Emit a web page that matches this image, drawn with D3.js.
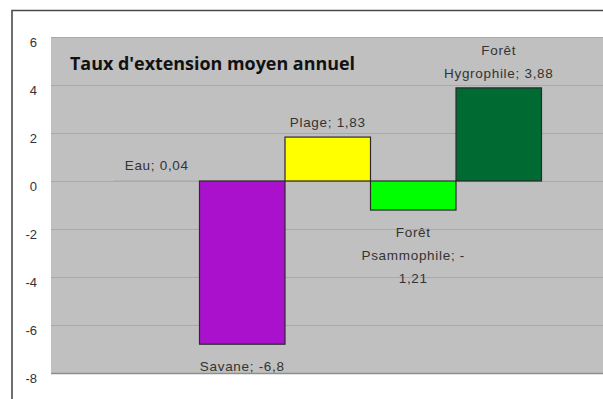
<!DOCTYPE html>
<html><head><meta charset="utf-8">
<script src="https://cdn.jsdelivr.net/npm/d3@7"></script>
<style>body{margin:0;background:#fff;}svg{display:block;}</style>
</head><body>
<script>
const categories = ["Eau", "Savane", "Plage", "Forêt Psammophile", "Forêt Hygrophile"];
const values = [0.04, -6.8, 1.83, -1.21, 3.88];
const colors = ["#b4b4b4", "#aa11cc", "#ffff00", "#00ff00", "#006a33"];
const labelLines = [["Eau; 0,04"], ["Savane; -6,8"], ["Plage; 1,83"], ["Forêt", "Psammophile; -", "1,21"], ["Forêt", "Hygrophile; 3,88"]];
const yTicks = [-8, -6, -4, -2, 0, 2, 4, 6];
const title = "Taux d'extension moyen annuel";

const W = 603, H = 399;
const svg = d3.select("body").append("svg").attr("width", W).attr("height", H);
const lblFont = "'Liberation Sans', Arial, sans-serif";

const plot = {left: 51, top: 37, right: 640, bottom: 373};
const y = d3.scaleLinear().domain([-8, 6]).range([plot.bottom, plot.top]);
const x = d3.scaleBand().domain(categories).range([114, 541.5]).padding(0);

// outer frame
svg.append("path").attr("d", `M12,${H+2}V10.5H${W+2}`).attr("fill", "none").attr("stroke", "#4a4a4a").attr("stroke-width", 1.6);

// plot background
svg.append("rect").attr("x", plot.left).attr("y", plot.top).attr("width", plot.right - plot.left).attr("height", plot.bottom - plot.top)
  .attr("fill", "#c0c0c0");

// grid lines
svg.append("g").selectAll("line").data(yTicks).join("line")
  .attr("x1", plot.left).attr("x2", plot.right)
  .attr("y1", d => Math.round(y(d)) + 0.5).attr("y2", d => Math.round(y(d)) + 0.5)
  .attr("stroke", d => d === -8 ? "#8e8e8e" : "#a9a9a9").attr("stroke-width", d => d === -8 ? 1.5 : 1);

// y axis labels
const yAxis = d3.axisLeft(y).tickValues(yTicks).tickSize(0).tickPadding(0).tickFormat(d => String(d));
const gy = svg.append("g").attr("transform", `translate(37,5)`).call(yAxis);
gy.select(".domain").remove();
gy.selectAll("text").attr("font-family", lblFont)
  .attr("font-size", 13).attr("fill", "#333");

// bars
svg.append("g").selectAll("rect").data(values).join("rect")
  .attr("x", (d, i) => x(categories[i]))
  .attr("width", x.bandwidth())
  .attr("y", d => y(Math.max(0, d)))
  .attr("height", d => Math.abs(y(d) - y(0)))
  .attr("fill", (d, i) => colors[i])
  .attr("stroke", "#2a2a2a").attr("stroke-width", 1.2)
  .attr("stroke-opacity", (d, i) => i === 0 ? 0 : 1);

// data labels
const lh = 23;
const lab = svg.append("g").attr("font-family", lblFont)
  .attr("font-size", 13.5).attr("fill", "#333").attr("text-anchor", "middle").attr("letter-spacing", 0.7);
values.forEach((v, i) => {
  const cx = x(categories[i]) + x.bandwidth() / 2;
  const lines = labelLines[i];
  let startY;
  if (v >= 0) {
    startY = y(v) - 10 - (lines.length - 1) * lh;
  } else {
    startY = y(v) + 27;
  }
  const t = lab.append("text").attr("x", cx).attr("y", startY);
  lines.forEach((s, k) => {
    t.append("tspan").attr("x", cx).attr("y", startY + k * lh).text(s);
  });
});

// title
svg.append("text").attr("x", 70).attr("y", 70).attr("font-family", "'Open Sans', sans-serif")
  .attr("font-weight", "bold").attr("font-size", 17.5).attr("fill", "#111")
  .attr("textLength", 285).attr("lengthAdjust", "spacingAndGlyphs").text(title);
</script>
</body></html>
